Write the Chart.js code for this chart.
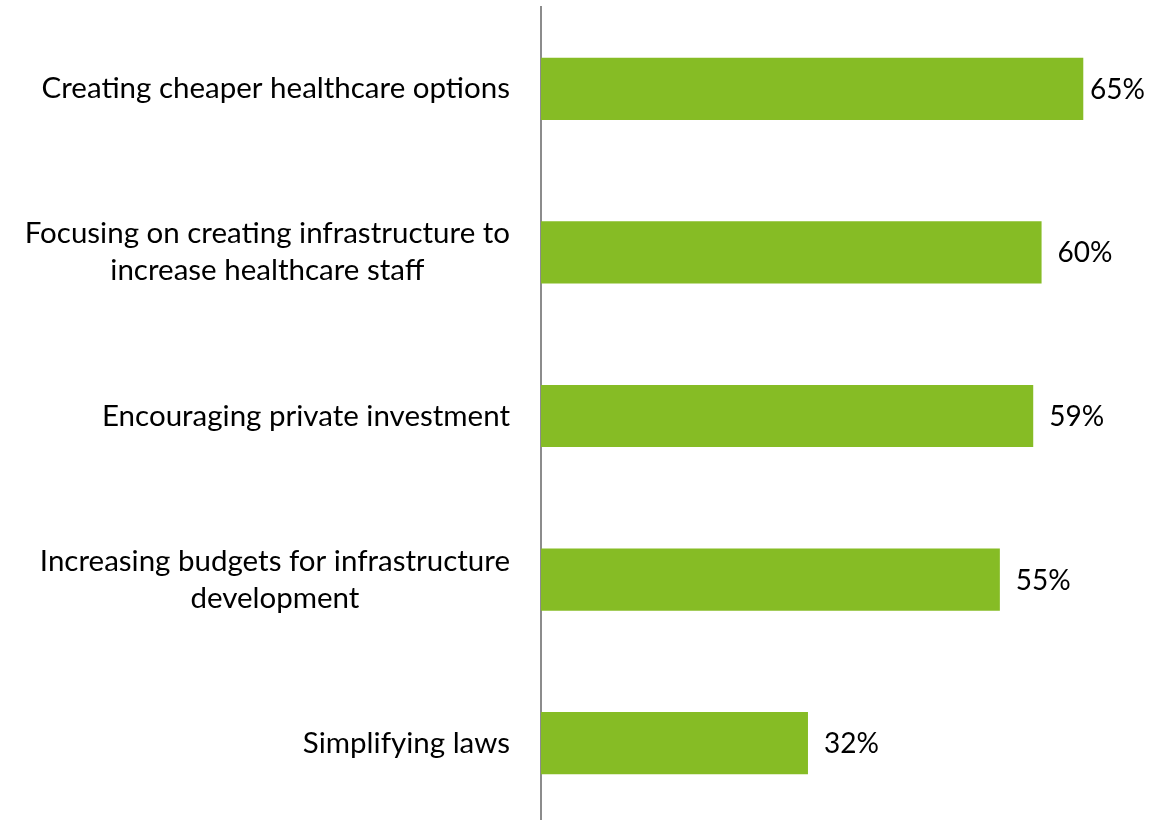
<!DOCTYPE html>
<html>
<head>
<meta charset="utf-8">
<script src="https://cdn.jsdelivr.net/npm/chart.js@4.4.1/dist/chart.umd.min.js"></script>
<style>
  html, body { margin: 0; padding: 0; background: #fff; overflow: hidden; }
  #wrap { position: relative; width: 1173px; height: 825px; }
</style>
</head>
<body>
<div id="wrap"><canvas id="chart"></canvas></div>
<script>
const categories = [
  'Creating cheaper healthcare options',
  ['Focusing on creating infrastructure to', 'increase healthcare staff'],
  'Encouraging private investment',
  ['Increasing budgets for infrastructure', 'development'],
  'Simplifying laws',
];
const values = [65, 60, 59, 55, 32];

const LABEL_FONT = '29.5px Lato';
const VALUE_FONT = '28px Lato';
const LINE_H = 37;
const LABEL_GAP = 31;
const VALUE_GAP = 16;
const EDGE_MARGIN = 28;

// category labels: right-aligned block, lines centred within it
// value labels: after the bar end, pulled back if they would run off the canvas
const labelPlugin = {
  id: 'labels',
  afterDraw(chart) {
    const ctx = chart.ctx;
    const yScale = chart.scales.y;
    ctx.save();
    ctx.font = LABEL_FONT;
    ctx.fillStyle = '#000';
    ctx.textBaseline = 'middle';
    ctx.textAlign = 'center';
    categories.forEach((lab, i) => {
      const lines = Array.isArray(lab) ? lab : [lab];
      const cy = yScale.getPixelForValue(i);
      const maxW = Math.max(...lines.map(l => ctx.measureText(l).width));
      const cx = chart.chartArea.left - LABEL_GAP - maxW / 2;
      lines.forEach((l, k) => {
        ctx.fillText(l, cx, cy + (k - (lines.length - 1) / 2) * LINE_H);
      });
    });
    ctx.font = VALUE_FONT;
    ctx.textAlign = 'left';
    chart.getDatasetMeta(0).data.forEach((bar, i) => {
      const txt = values[i] + '%';
      const w = ctx.measureText(txt).width;
      const x = Math.min(bar.x + VALUE_GAP, chart.width - EDGE_MARGIN - w);
      ctx.fillText(txt, x, bar.y + 1);
    });
    ctx.restore();
  }
};

new Chart(document.getElementById('chart'), {
  type: 'bar',
  data: {
    labels: categories,
    datasets: [{
      data: values,
      backgroundColor: '#86BC25',
      barPercentage: 0.38,
      categoryPercentage: 1,
    }]
  },
  options: {
    indexAxis: 'y',
    responsive: true,
    maintainAspectRatio: false,
    animation: false,
    layout: { padding: { top: 7, right: 48, bottom: 0, left: 0 } },
    plugins: { legend: { display: false }, tooltip: { enabled: false } },
    scales: {
      x: { display: false, min: 0, max: 70 },
      y: {
        grid: { display: false, drawTicks: false },
        border: { display: true, color: '#8c8c8c', width: 2 },
        ticks: { display: false },
        afterFit(scale) { scale.width = 541; },
      }
    }
  },
  plugins: [labelPlugin]
});
</script>
</body>
</html>
